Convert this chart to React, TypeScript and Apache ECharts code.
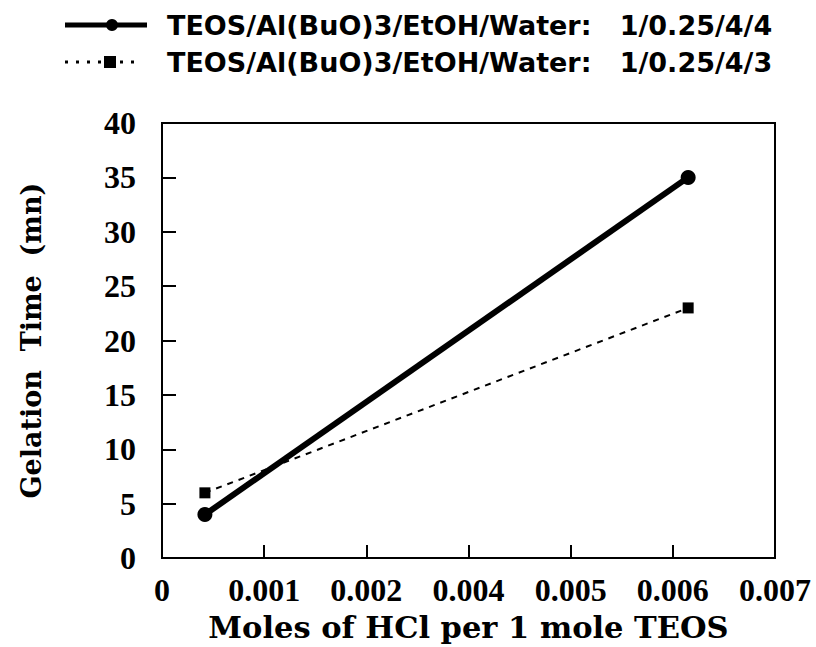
import React, { useEffect, useRef } from "react";
import * as echarts from "echarts";

// x tick labels as printed on the original axis (evenly spaced ticks)
const xTickLabels = ["0", "0.001", "0.002", "0.004", "0.005", "0.006", "0.007"];
// point positions in tick-index units (0 = "0", 6 = "0.007")
const xPositions = [0.42, 5.15];
const series1Name = "TEOS/Al(BuO)3/EtOH/Water:   1/0.25/4/4";
const series2Name = "TEOS/Al(BuO)3/EtOH/Water:   1/0.25/4/3";
const series1Values = [4, 35];
const series2Values = [6, 23];
const yTicks = { min: 0, max: 40, interval: 5 };

export default function App() {
  const ref = useRef<HTMLDivElement>(null);
  useEffect(() => {
    document.body.style.margin = "0";
    const chart = echarts.init(ref.current!, undefined, { renderer: "svg" });
    const tickFont = {
      fontFamily: "Liberation Serif",
      fontWeight: "bold" as const,
      fontSize: 32,
      color: "#000",
    };
    const nameFont = {
      fontFamily: "DejaVu Serif",
      fontWeight: "bold" as const,
      color: "#000",
    };
    const legendFont = {
      fontFamily: "DejaVu Sans",
      fontWeight: "bold" as const,
      fontSize: 27,
      fill: "#000",
    };
    chart.setOption({
      animation: false,
      backgroundColor: "#fff",
      grid: {
        left: 162,
        right: 41,
        top: 123,
        bottom: 84,
        show: true,
        borderColor: "#000",
        borderWidth: 2,
        backgroundColor: "transparent",
      },
      xAxis: {
        type: "value",
        min: 0,
        max: xTickLabels.length - 1,
        interval: 1,
        name: "Moles of HCl per 1 mole TEOS",
        nameLocation: "middle",
        nameGap: 49,
        nameTextStyle: { ...nameFont, fontSize: 30.5 },
        axisLine: { lineStyle: { color: "#000", width: 2 } },
        axisTick: { inside: true, length: 13, lineStyle: { color: "#000", width: 2 } },
        axisLabel: {
          ...tickFont,
          margin: 16,
          formatter: (v: number) => xTickLabels[Math.round(v)] ?? "",
        },
        splitLine: { show: false },
      },
      yAxis: {
        type: "value",
        ...yTicks,
        name: "Gelation  Time  (mn)",
        nameLocation: "middle",
        nameGap: 117,
        nameTextStyle: { ...nameFont, fontSize: 27 },
        axisLine: { lineStyle: { color: "#000", width: 2 } },
        axisTick: { inside: true, length: 14, lineStyle: { color: "#000", width: 2 } },
        axisLabel: { ...tickFont, margin: 26 },
        splitLine: { show: false },
      },
      series: [
        {
          name: series1Name,
          type: "line",
          data: xPositions.map((x, i) => [x, series1Values[i]]),
          symbol: "circle",
          symbolSize: 15,
          lineStyle: { color: "#000", width: 6 },
          itemStyle: { color: "#000" },
        },
        {
          name: series2Name,
          type: "line",
          data: xPositions.map((x, i) => [x, series2Values[i]]),
          symbol: "rect",
          symbolSize: 11,
          lineStyle: { color: "#000", width: 2, type: [6, 6] },
          itemStyle: { color: "#000" },
        },
      ],
      graphic: [
        { type: "line", shape: { x1: 65, y1: 25, x2: 147, y2: 25 }, style: { stroke: "#000", lineWidth: 5 } },
        { type: "circle", shape: { cx: 112, cy: 25, r: 6 }, style: { fill: "#000" } },
        { type: "text", x: 167, y: 25, style: { text: series1Name, ...legendFont, verticalAlign: "middle" } },
        { type: "line", shape: { x1: 65, y1: 62, x2: 137, y2: 62 }, style: { stroke: "#000", lineWidth: 3, lineDash: [3, 8] } },
        { type: "rect", shape: { x: 104, y: 56, width: 12, height: 12 }, style: { fill: "#000" } },
        { type: "text", x: 167, y: 62, style: { text: series2Name, ...legendFont, verticalAlign: "middle" } },
      ],
    });
    return () => chart.dispose();
  }, []);
  return <div ref={ref} style={{ width: 816, height: 647 }} />;
}
